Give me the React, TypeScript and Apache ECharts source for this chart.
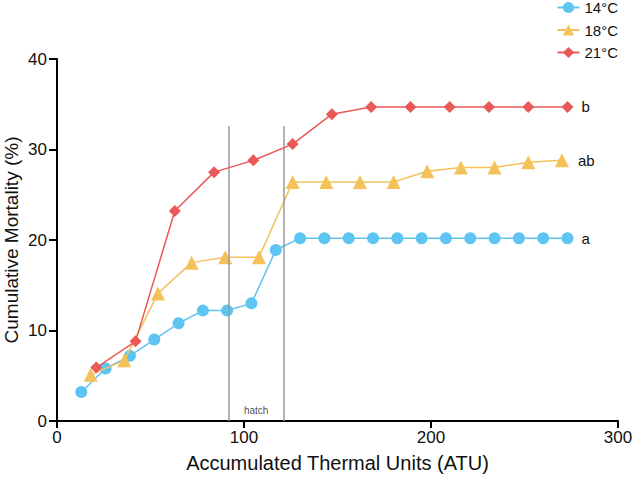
import React, { useEffect, useRef } from "react";
import * as echarts from "echarts";

const atu14 = [13, 26, 39, 52, 65, 78, 91, 104, 117, 130, 143, 156, 169, 182, 195, 208, 221, 234, 247, 260, 273];
const mort14 = [3.2, 5.8, 7.2, 9.0, 10.8, 12.2, 12.2, 13.0, 18.9, 20.2, 20.2, 20.2, 20.2, 20.2, 20.2, 20.2, 20.2, 20.2, 20.2, 20.2, 20.2];
const atu18 = [18, 36, 54, 72, 90, 108, 126, 144, 162, 180, 198, 216, 234, 252, 270];
const mort18 = [5.1, 6.7, 14.1, 17.5, 18.1, 18.1, 26.4, 26.4, 26.4, 26.4, 27.6, 28.0, 28.0, 28.6, 28.8];
const atu21 = [21, 42, 63, 84, 105, 126, 147, 168, 189, 210, 231, 252, 273];
const mort21 = [5.9, 8.8, 23.2, 27.5, 28.8, 30.6, 33.9, 34.7, 34.7, 34.7, 34.7, 34.7, 34.7];
const seriesNames = ["14°C", "18°C", "21°C"];
const groupLetters = ["a", "ab", "b"];
const hatchLines = [92, 121];
const hatchTop = 32.6;
const xTicks = [0, 100, 200, 300];
const yTicks = [0, 10, 20, 30, 40];

const colors = ["#5EC4F2", "#F5C25A", "#EB5858"];
const FONT = "Liberation Sans, Arial, sans-serif";

function buildData(xs: number[], ys: number[], letter: string, dist: number) {
  return xs.map((x, i) => {
    if (i === xs.length - 1) {
      return {
        value: [x, ys[i]],
        label: {
          show: true,
          formatter: letter,
          position: "right",
          distance: dist,
          color: "#111",
          fontSize: 15,
          fontFamily: FONT,
        },
      };
    }
    return { value: [x, ys[i]] };
  });
}

export default function App() {
  const ref = useRef<HTMLDivElement>(null);
  useEffect(() => {
    if (!ref.current) return;
    const chart = echarts.init(ref.current, null, { renderer: "svg" });
    const option: any = {
      animation: false,
      backgroundColor: "#fff",
      grid: {
        left: 57,
        right: 15,
        top: 59,
        bottom: 58,
        containLabel: false,
        outerBoundsMode: "none",
      },
      legend: {
        orient: "vertical",
        right: 15,
        top: 0,
        padding: 0,
        itemWidth: 22,
        itemHeight: 14,
        itemGap: 7.5,
        textStyle: { fontSize: 15, color: "#111", fontFamily: FONT },
        data: seriesNames,
      },
      xAxis: {
        type: "value",
        min: xTicks[0],
        max: xTicks[xTicks.length - 1],
        interval: 100,
        name: "Accumulated Thermal Units (ATU)",
        nameLocation: "middle",
        nameGap: 32,
        nameTextStyle: { fontSize: 20, color: "#111", fontFamily: FONT },
        axisLine: { show: true, lineStyle: { color: "#000", width: 2 } },
        axisTick: { show: true, length: 7, lineStyle: { color: "#000", width: 2 } },
        axisLabel: { fontSize: 17, color: "#111", fontFamily: FONT, margin: 8 },
        splitLine: { show: false },
      },
      yAxis: {
        type: "value",
        min: yTicks[0],
        max: yTicks[yTicks.length - 1],
        interval: 10,
        name: "Cumulative Mortality (%)",
        nameLocation: "middle",
        nameGap: 36,
        nameMoveOverlap: false,
        nameTextStyle: { fontSize: 19, color: "#111", fontFamily: FONT },
        axisLine: { show: true, lineStyle: { color: "#000", width: 2 } },
        axisTick: { show: true, length: 8, lineStyle: { color: "#000", width: 2 } },
        axisLabel: { fontSize: 17, color: "#111", fontFamily: FONT, margin: 10 },
        splitLine: { show: false },
      },
      series: [
        {
          name: seriesNames[0],
          type: "line",
          symbol: "circle",
          symbolSize: 12,
          z: 3,
          itemStyle: { color: colors[0] },
          lineStyle: { color: colors[0], width: 1.5 },
          data: buildData(atu14, mort14, groupLetters[0], 8),
          markLine: {
            silent: true,
            symbol: "none",
            label: { show: false },
            lineStyle: { color: "#9a9a9a", width: 1.5, type: "solid" },
            data: hatchLines.map((h) => [
              { coord: [h, 0] },
              { coord: [h, hatchTop] },
            ]),
          },
        },
        {
          name: seriesNames[1],
          type: "line",
          symbol: "triangle",
          symbolSize: 14,
          z: 4,
          itemStyle: { color: colors[1] },
          lineStyle: { color: colors[1], width: 1.5 },
          data: buildData(atu18, mort18, groupLetters[1], 9),
        },
        {
          name: seriesNames[2],
          type: "line",
          symbol: "diamond",
          symbolSize: 12,
          z: 5,
          itemStyle: { color: colors[2] },
          lineStyle: { color: colors[2], width: 1.5 },
          data: buildData(atu21, mort21, groupLetters[2], 8),
        },
        {
          name: "hatch",
          type: "scatter",
          symbolSize: 0,
          silent: true,
          data: [[(hatchLines[0] + hatchLines[1]) / 2, 1.2]],
          label: {
            show: true,
            formatter: "hatch",
            position: "inside",
            color: "#222",
            fontSize: 10,
            fontFamily: FONT,
          },
        },
      ],
    };
    chart.setOption(option);
    return () => chart.dispose();
  }, []);
  return (
    <div
      ref={ref}
      style={{ position: "fixed", left: 0, top: 0, width: 633, height: 479 }}
    />
  );
}
